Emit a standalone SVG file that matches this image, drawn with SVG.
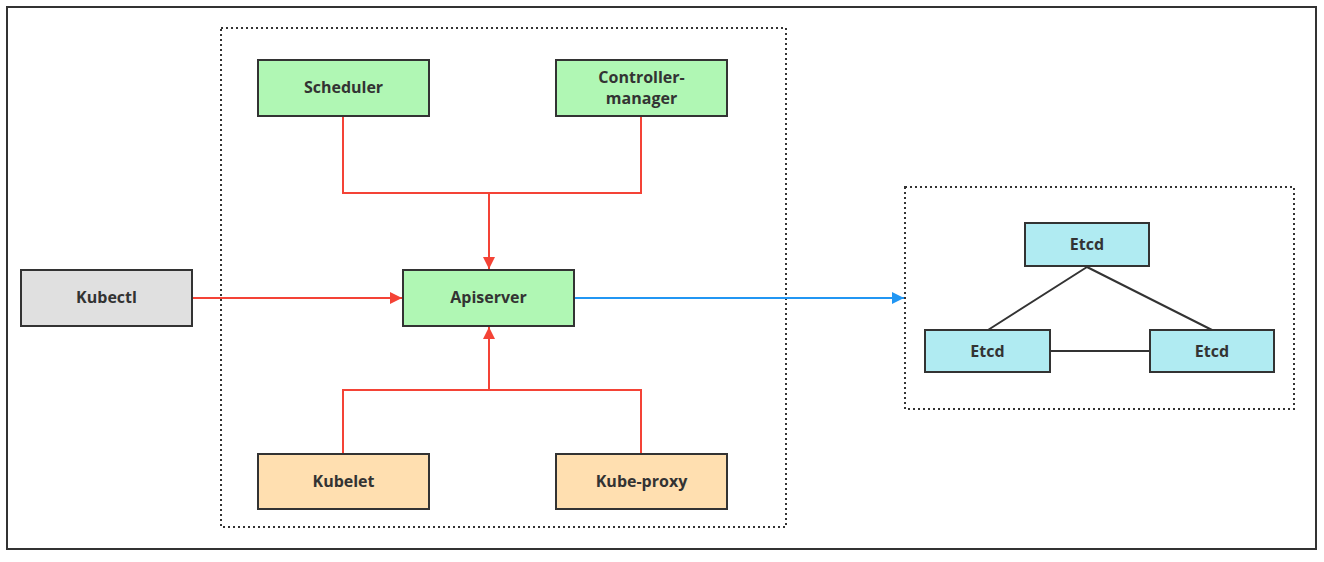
<svg xmlns="http://www.w3.org/2000/svg" width="1324" height="562" viewBox="0 0 1324 562">
<defs>
<style>
.box{stroke:#333;stroke-width:2}
.g{fill:#B0F7B4}
.k{fill:#E0E0E0}
.o{fill:#FFDFB0}
.c{fill:#B0EBF2}
.t{font-family:"Open Sans","Noto Sans",sans-serif;font-weight:bold;font-size:16px;fill:#333;text-anchor:middle}
.r{fill:none;stroke:#F44336;stroke-width:2}
.b{fill:none;stroke:#2196F3;stroke-width:2}
.e{fill:none;stroke:#333;stroke-width:2}
.dot{fill:none;stroke:#333;stroke-width:2;stroke-dasharray:2 3}
</style>
<marker id="ar" viewBox="0 0 10 10" refX="10" refY="5" markerWidth="12" markerHeight="12" markerUnits="userSpaceOnUse" orient="auto"><path d="M0,0L10,5L0,10Z" fill="#F44336"/></marker>
<marker id="ab" viewBox="0 0 10 10" refX="10" refY="5" markerWidth="12" markerHeight="12" markerUnits="userSpaceOnUse" orient="auto"><path d="M0,0L10,5L0,10Z" fill="#2196F3"/></marker>
</defs>
<rect x="0" y="0" width="1324" height="562" fill="#fff"/>
<rect x="7" y="7" width="1309" height="542" fill="none" stroke="#333" stroke-width="2"/>
<rect class="dot" x="221" y="28" width="565" height="499"/>
<rect class="dot" x="905" y="187" width="389" height="222"/>
<g id="connectors">
<path class="r" d="M343,116V193H641V116"/>
<path class="r" d="M489,193V269" marker-end="url(#ar)"/>
<path class="r" d="M343,454V390H641V454"/>
<path class="r" d="M489,390V327" marker-end="url(#ar)"/>
<path class="r" d="M192,298H402" marker-end="url(#ar)"/>
<path class="b" d="M575,298H904" marker-end="url(#ab)"/>
<path class="e" d="M1087,267L988,330M1087,267L1212,330M1050,351H1150"/>
</g>
<g id="scheduler"><rect class="box g" x="258" y="60" width="171" height="56"/><text class="t" x="343.5" y="93">Scheduler</text></g>
<g id="controller"><rect class="box g" x="556" y="60" width="171" height="56"/><text class="t" x="641.5" y="83">Controller-</text><text class="t" x="641.5" y="104">manager</text></g>
<g id="apiserver"><rect class="box g" x="403" y="270" width="171" height="56"/><text class="t" x="488.5" y="303">Apiserver</text></g>
<g id="kubectl"><rect class="box k" x="21" y="270" width="171" height="56"/><text class="t" x="106.5" y="303">Kubectl</text></g>
<g id="kubelet"><rect class="box o" x="258" y="454" width="171" height="55"/><text class="t" x="343.5" y="487">Kubelet</text></g>
<g id="kubeproxy"><rect class="box o" x="556" y="454" width="171" height="55"/><text class="t" x="641.5" y="487">Kube-proxy</text></g>
<g id="etcd1"><rect class="box c" x="1025" y="223" width="124" height="43"/><text class="t" x="1087" y="250">Etcd</text></g>
<g id="etcd2"><rect class="box c" x="925" y="330" width="125" height="42"/><text class="t" x="987.5" y="357">Etcd</text></g>
<g id="etcd3"><rect class="box c" x="1150" y="330" width="124" height="42"/><text class="t" x="1212" y="357">Etcd</text></g>
</svg>
